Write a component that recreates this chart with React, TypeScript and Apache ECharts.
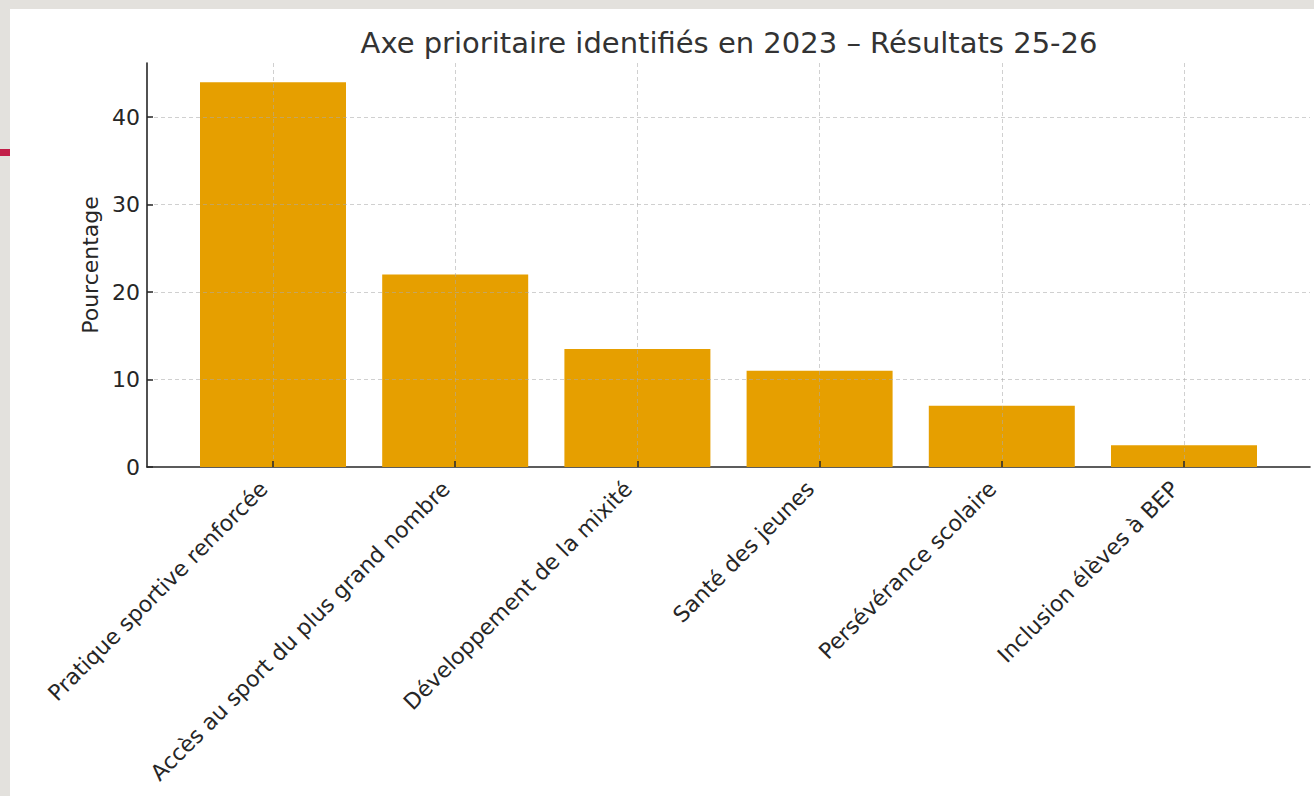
import React, { useEffect, useRef } from "react";
import * as echarts from "echarts";

const TITLE = "Axe prioritaire identifiés en 2023 – Résultats 25-26";
const Y_NAME = "Pourcentage";
const categories = [
  "Pratique sportive renforcée",
  "Accès au sport du plus grand nombre",
  "Développement de la mixité",
  "Santé des jeunes",
  "Persévérance scolaire",
  "Inclusion élèves à BEP",
];
const values = [44, 22, 13.5, 11, 7, 2.5];
const yTicks = [0, 10, 20, 30, 40];
const Y_MAX = 46.2;

const FONT = "DejaVu Sans";
const TXT = "#262626";

export default function App() {
  const ref = useRef<HTMLDivElement>(null);
  useEffect(() => {
    if (!ref.current) return;
    const chart = echarts.init(ref.current, undefined, { renderer: "svg" });
    const gridTop = 63;
    const gridBottom = 329;
    chart.setOption({
      animation: false,
      backgroundColor: "#e3e1dd",
      textStyle: { fontFamily: FONT },
      graphic: [
        { type: "rect", z: -100, shape: { x: 10, y: 9, width: 1304, height: 787 }, style: { fill: "#ffffff" } },
        { type: "rect", z: -100, shape: { x: 0, y: 149, width: 10, height: 7 }, style: { fill: "#c21e48" } },
        {
          type: "text",
          x: 729,
          y: 43,
          style: {
            text: TITLE,
            fontFamily: FONT,
            fontSize: 29,
            fill: "#333333",
            textAlign: "center",
            textVerticalAlign: "middle",
          },
        },
      ],
      grid: [
        { left: 273, right: 130, top: gridTop, bottom: gridBottom },
        { left: 147, right: 4, top: gridTop, bottom: gridBottom },
      ],
      xAxis: [
        {
          type: "category",
          gridIndex: 0,
          data: categories,
          boundaryGap: false,
          z: 5,
          axisLine: { show: false },
          axisTick: { show: true, inside: true, length: 6, lineStyle: { color: TXT, width: 1.5 } },
          axisLabel: {
            interval: 0,
            rotate: 45,
            fontSize: 22,
            color: TXT,
            fontFamily: FONT,
            margin: 9,
            padding: [0, 13, 0, 0],
          },
          splitLine: {
            show: true,
            interval: 0,
            lineStyle: { color: "rgba(170,170,170,0.55)", type: [4, 3], width: 1 },
          },
        },
        {
          type: "value",
          gridIndex: 1,
          min: 0,
          max: 1,
          axisLine: { show: true, lineStyle: { color: TXT, width: 1.6 } },
          axisTick: { show: false },
          axisLabel: { show: false },
          splitLine: { show: false },
        },
      ],
      yAxis: [
        {
          type: "value",
          gridIndex: 0,
          min: 0,
          max: Y_MAX,
          show: false,
        },
        {
          type: "value",
          gridIndex: 1,
          min: 0,
          max: Y_MAX,
          interval: 10,
          z: 5,
          name: Y_NAME,
          nameLocation: "middle",
          nameGap: 38,
          nameTextStyle: { fontSize: 22, color: TXT, fontFamily: FONT },
          axisLine: { show: true, lineStyle: { color: TXT, width: 1.6 } },
          axisTick: { show: true, inside: true, length: 6, customValues: yTicks, lineStyle: { color: TXT, width: 1.5 } },
          axisLabel: { fontSize: 22, color: TXT, fontFamily: FONT, margin: 7, customValues: yTicks },
          splitLine: {
            show: true,
            showMinLine: false,
            lineStyle: { color: "rgba(170,170,170,0.55)", type: [4, 3], width: 1 },
          },
        },
      ],
      series: [
        {
          type: "bar",
          xAxisIndex: 0,
          yAxisIndex: 0,
          data: values,
          barWidth: 146,
          clip: false,
          itemStyle: { color: "#e69f00" },
        },
      ],
    });
    return () => chart.dispose();
  }, []);
  return (
    <div
      ref={ref}
      style={{ position: "fixed", left: 0, top: 0, width: 1314, height: 796 }}
    />
  );
}
